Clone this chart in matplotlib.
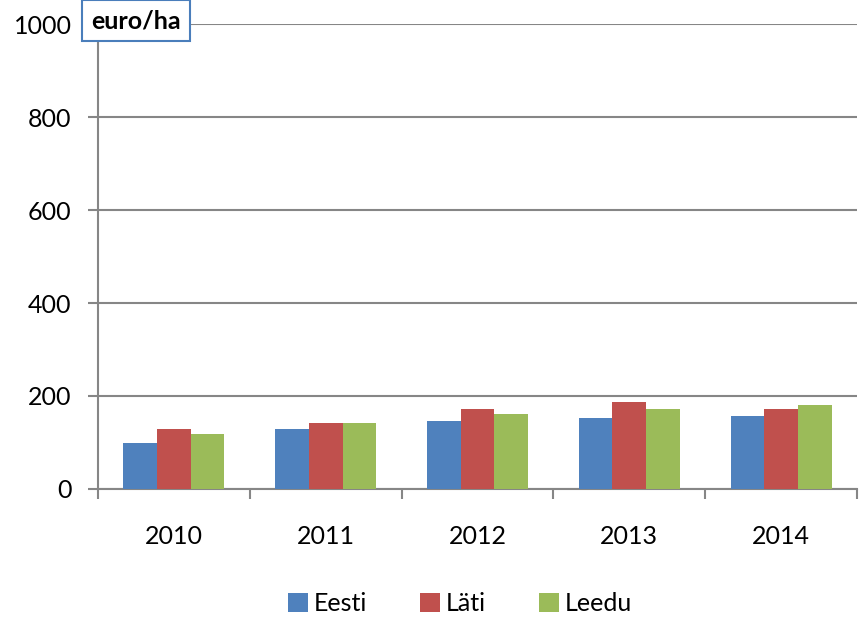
import matplotlib
matplotlib.use("Agg")
import matplotlib.pyplot as plt
import numpy as np

years = ["2010", "2011", "2012", "2013", "2014"]
eesti = [99, 128, 147, 152, 158]
lati = [128, 142, 172, 187, 172]
leedu = [119, 142, 162, 172, 181]
series_names = ["Eesti", "Läti", "Leedu"]
colors = ["#4F81BD", "#C0504D", "#9BBB59"]

plt.rcParams["font.family"] = ["Lato", "DejaVu Sans"]

grid_col = "#868686"

fig = plt.figure(figsize=(8.68, 6.17), dpi=100)
ax = fig.add_axes([0.1129, 0.2075, 0.8744, 0.7535])

x = np.arange(len(years))
w = 0.222
for i, (vals, name) in enumerate(zip([eesti, lati, leedu], series_names)):
    ax.bar(x + (i - 1) * w, vals, w, color=colors[i], label=name, zorder=3)

ax.set_xlim(-0.5, len(years) - 0.5)
ax.set_ylim(0, 1000)
ax.set_yticks(range(0, 1001, 200))
ax.yaxis.grid(True, color=grid_col, linewidth=1.5, zorder=0)
ax.set_xticks(x)
ax.set_xticklabels(years)
ax.set_xticks(np.arange(-0.5, len(years)), minor=True)
ax.tick_params(axis="x", which="major", length=0, pad=26, labelsize=18)
ax.tick_params(axis="x", which="minor", length=7, width=1.5, color=grid_col)
ax.tick_params(axis="y", length=7, width=1.5, color=grid_col, labelsize=18, pad=12)
for s in ["top", "right"]:
    ax.spines[s].set_visible(False)
for s in ["left", "bottom"]:
    ax.spines[s].set_color(grid_col)
    ax.spines[s].set_linewidth(1.5)

fig.text(0.157, 0.966, "euro/ha", ha="center", va="center", fontsize=18,
         fontweight="bold",
         bbox=dict(boxstyle="square,pad=0.36", facecolor="white",
                   edgecolor="#4A7EBB", linewidth=1.5), zorder=10)

fig.legend(loc="center", bbox_to_anchor=(0.53, 0.022), ncol=3, frameon=False,
           fontsize=18, handlelength=0.8, handleheight=0.8, handletextpad=0.25,
           columnspacing=2.1)

fig.savefig("out.png", dpi=100)
